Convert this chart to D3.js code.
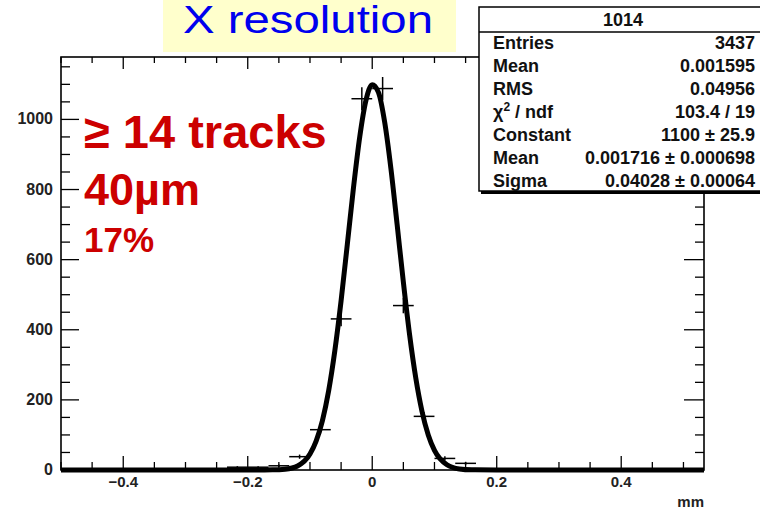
<!DOCTYPE html>
<html>
<head>
<meta charset="utf-8">
<script src="https://cdn.jsdelivr.net/npm/d3@7"></script>
<style>
  body { margin: 0; background: #fff; }
  svg text { font-family: "Liberation Sans", Arial, sans-serif; }
</style>
</head>
<body>
<svg id="res_svg" width="760" height="512"></svg>
<script>
// histogram bins (bin centre in mm, entries, error)
var binCenters = [-0.2167, -0.1833, -0.15, -0.1167, -0.0833, -0.05, -0.0167, 0.0167, 0.05, 0.0833, 0.1167, 0.15];
var binCounts  = [8, 8, 12, 38, 115, 431, 1059, 1088, 469, 153, 33, 19];
var binErrors  = [3, 3, 3.5, 6, 11, 21, 33, 33, 22, 12, 6, 4.4];
var binWidth = 1 / 30;

// gaussian fit curve
var fitX = [-0.5, -0.2, -0.16, -0.14, -0.12, -0.10, -0.09, -0.08, -0.07, -0.06, -0.05, -0.04, -0.03, -0.02, -0.01, 0,
            0.01, 0.02, 0.03, 0.04, 0.05, 0.06, 0.07, 0.08, 0.09, 0.10, 0.12, 0.14, 0.16, 0.2, 0.533];
var fitY = [0, 0, 0.4, 2.3, 11.5, 45.5, 83, 141, 226, 341, 483, 644, 807, 951, 1055, 1099,
            1077, 992, 860, 700, 536, 386, 262, 167, 100, 56, 15, 3, 0.5, 0, 0];

// axis ticks
var xTicks = [-0.4, -0.2, 0, 0.2, 0.4];
var yTicks = [0, 200, 400, 600, 800, 1000];

// stats box
var statsTitle = "1014";
var statsNames  = ["Entries", "Mean", "RMS", "\u03c7\u00b2 / ndf", "Constant", "Mean", "Sigma"];
var statsValues = ["3437", "0.001595", "0.04956", "103.4 / 19", "1100 \u00b1 25.9", "0.001716 \u00b1 0.000698", "0.04028 \u00b1 0.00064"];

// annotation text
var titleText = "X resolution";
var noteLines = ["\u2265 14 tracks", "40\u00b5m", "17%"];

// frame of the plot
var frame = {left: 61, top: 57, right: 704, bottom: 470};

var x = d3.scaleLinear().domain([-0.5, 0.533]).range([frame.left, frame.right]);
var y = d3.scaleLinear().domain([0, 1178]).range([frame.bottom, frame.top]);

var svg = d3.select("#res_svg");

// title on yellow box
svg.append("rect")
  .attr("x", 163).attr("y", 0)
  .attr("width", 293).attr("height", 52)
  .attr("fill", "#ffffcc");
svg.append("text")
  .attr("x", 183).attr("y", 33)
  .attr("font-size", 38)
  .attr("fill", "#0000ee")
  .attr("textLength", 250)
  .attr("lengthAdjust", "spacingAndGlyphs")
  .text(titleText);

// axes on all four sides, ticks pointing inward
var g = svg.append("g");

function tickVals(lo, hi, step) {
  var out = [];
  for (var v = lo; v <= hi + 1e-9; v += step) out.push(+v.toFixed(4));
  return out;
}
var xMinor = tickVals(-0.5, 0.5, 0.05);
var yMinor = tickVals(0, 1150, 50);

function isMajorX(v) { return Math.abs(v * 10 / 2 - Math.round(v * 10 / 2)) < 1e-6; }
function isMajorY(v) { return v % 200 === 0; }

// bottom axis
g.selectAll(".xb").data(xMinor).enter().append("line")
  .attr("x1", function(d) { return x(d); }).attr("x2", function(d) { return x(d); })
  .attr("y1", frame.bottom)
  .attr("y2", function(d) { return frame.bottom - (isMajorX(d) ? 14 : 8); })
  .attr("stroke", "#000").attr("stroke-width", 1.3);
// top axis
g.selectAll(".xt").data(xMinor).enter().append("line")
  .attr("x1", function(d) { return x(d); }).attr("x2", function(d) { return x(d); })
  .attr("y1", frame.top)
  .attr("y2", function(d) { return frame.top + (isMajorX(d) ? 12 : 6); })
  .attr("stroke", "#000").attr("stroke-width", 1.3);
// left axis
g.selectAll(".yl").data(yMinor).enter().append("line")
  .attr("y1", function(d) { return y(d); }).attr("y2", function(d) { return y(d); })
  .attr("x1", frame.left)
  .attr("x2", function(d) { return frame.left + (isMajorY(d) ? 18 : 9); })
  .attr("stroke", "#000").attr("stroke-width", 1.3);
// right axis
g.selectAll(".yr").data(yMinor).enter().append("line")
  .attr("y1", function(d) { return y(d); }).attr("y2", function(d) { return y(d); })
  .attr("x1", frame.right)
  .attr("x2", function(d) { return frame.right - (isMajorY(d) ? 20 : 9); })
  .attr("stroke", "#000").attr("stroke-width", 1.3);

g.append("rect")
  .attr("x", frame.left).attr("y", frame.top)
  .attr("width", frame.right - frame.left).attr("height", frame.bottom - frame.top)
  .attr("fill", "none").attr("stroke", "#000").attr("stroke-width", 1.6);

// tick labels
g.selectAll(".xl").data(xTicks).enter().append("text")
  .attr("x", function(d) { return x(d); })
  .attr("y", 487)
  .attr("text-anchor", "middle")
  .attr("font-size", 15).attr("font-weight", "bold").attr("fill", "#222")
  .text(function(d) { return d === 0 ? "0" : d3.format(".1f")(d); });

g.selectAll(".yl2").data(yTicks).enter().append("text")
  .attr("x", 53)
  .attr("y", function(d) { return y(d) + 5; })
  .attr("text-anchor", "end")
  .attr("font-size", 16).attr("font-weight", "bold").attr("fill", "#222")
  .text(function(d) { return d; });

g.append("text")
  .attr("x", 704).attr("y", 507)
  .attr("text-anchor", "end")
  .attr("font-size", 15).attr("font-weight", "bold").attr("fill", "#222")
  .text("mm");

// histogram points with error bars
var pts = svg.append("g").attr("stroke", "#000").attr("stroke-width", 1.5);
binCenters.forEach(function(c, i) {
  pts.append("line")
    .attr("x1", x(c - binWidth / 2)).attr("x2", x(c + binWidth / 2))
    .attr("y1", y(binCounts[i])).attr("y2", y(binCounts[i]));
  pts.append("line")
    .attr("x1", x(c)).attr("x2", x(c))
    .attr("y1", y(binCounts[i] - binErrors[i])).attr("y2", y(binCounts[i] + binErrors[i]));
});

// fit curve
var fitLine = d3.line()
  .x(function(d, i) { return x(fitX[i]); })
  .y(function(d) { return y(d); })
  .curve(d3.curveMonotoneX);

svg.append("path")
  .datum(fitY)
  .attr("d", fitLine)
  .attr("fill", "none")
  .attr("stroke", "#000")
  .attr("stroke-width", 5)
  .attr("stroke-linejoin", "round");

// red notes
var noteY = [148, 205, 252];
var noteSize = [47, 45, 35];
svg.selectAll(".note").data(noteLines).enter().append("text")
  .attr("x", 84)
  .attr("y", function(d, i) { return noteY[i]; })
  .attr("font-size", function(d, i) { return noteSize[i]; })
  .attr("font-weight", "bold")
  .attr("fill", "#cc0000")
  .text(function(d) { return d; });

// stats box
var sb = svg.append("g");
sb.append("rect")
  .attr("x", 481).attr("y", 9)
  .attr("width", 290).attr("height", 185)
  .attr("fill", "#000");
sb.append("rect")
  .attr("x", 479).attr("y", 7)
  .attr("width", 290).attr("height", 184)
  .attr("fill", "#fff").attr("stroke", "#000").attr("stroke-width", 1.5);
sb.append("line")
  .attr("x1", 479).attr("x2", 760)
  .attr("y1", 32).attr("y2", 32)
  .attr("stroke", "#000").attr("stroke-width", 1.5);
sb.append("text")
  .attr("x", 623).attr("y", 26)
  .attr("text-anchor", "middle")
  .attr("font-size", 18).attr("font-weight", "bold").attr("fill", "#111")
  .text(statsTitle);

statsNames.forEach(function(n, i) {
  var ty = 49 + i * 23;
  var t = sb.append("text")
    .attr("x", 493).attr("y", ty)
    .attr("font-size", 18).attr("font-weight", "bold").attr("fill", "#111");
  if (n.indexOf("\u00b2") >= 0) {
    t.append("tspan").text("\u03c7");
    t.append("tspan").attr("dy", -7).attr("font-size", 12).text("2");
    t.append("tspan").attr("dy", 7).text(" / ndf");
  } else {
    t.text(n);
  }
  sb.append("text")
    .attr("x", 755).attr("y", ty)
    .attr("text-anchor", "end")
    .attr("font-size", 18).attr("font-weight", "bold").attr("fill", "#111")
    .text(statsValues[i]);
});
</script>
</body>
</html>
